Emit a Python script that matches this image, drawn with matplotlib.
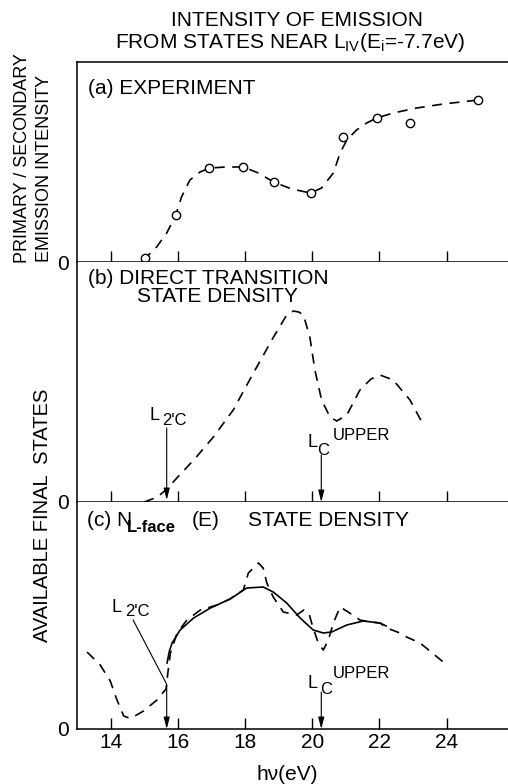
import matplotlib
matplotlib.use("Agg")
import matplotlib.pyplot as plt

plt.rcParams['font.family'] = ['Liberation Sans', 'DejaVu Sans']

# (a) experiment: primary / secondary emission intensity (arb. units)
exp_hv = [15.02, 15.94, 16.94, 17.95, 18.85, 19.95, 20.93, 21.92, 22.91, 24.94]
exp_int = [4, 47, 94, 95, 80, 69, 125, 144, 139, 162]
# hand-drawn guide through the points
exp_fit_hv = [15.00, 15.07, 15.37, 15.67, 15.94, 16.11, 16.36, 16.66, 16.94, 17.45,
              17.95, 18.40, 18.85, 19.39, 19.95, 20.28, 20.63, 20.83, 21.03, 21.32,
              21.62, 21.92, 22.41, 23.11, 23.90, 24.94]
exp_fit = [1, 5, 15, 29, 47, 65, 82, 90, 94, 95,
           95, 89, 80, 73, 69, 74, 89, 109, 122, 132,
           139, 144, 149, 154, 158, 162]

# (b) direct transition state density
dt_hv = [15.00, 15.40, 15.67, 16.00, 16.50, 17.06, 17.65, 18.25, 18.85, 19.24,
         19.44, 19.60, 19.74, 19.93, 20.08, 20.28, 20.53, 20.73, 21.03, 21.42,
         21.75, 22.02, 22.41, 22.91, 23.31]
dt_dos = [0, 5, 13, 25, 43, 65, 92, 129, 165, 187,
          191, 190, 187, 165, 132, 102, 85, 81, 87, 112,
          123, 127, 122, 102, 77]

# (c) N_L-face(E) state density, dashed and smoothed (solid)
lf_hv = [13.30, 13.69, 13.99, 14.19, 14.39, 14.59, 14.98, 15.38, 15.65, 15.70,
         15.78, 15.98, 16.27, 16.67, 17.17, 17.55, 17.95, 18.10, 18.40, 18.54,
         18.65, 18.84, 19.14, 19.54, 19.75, 19.90, 20.00, 20.18, 20.33, 20.48,
         20.63, 20.83, 21.07, 21.42, 21.72, 22.02, 22.22, 22.61, 22.81, 23.21, 23.90]
lf_dos = [77, 64, 48, 29, 13, 10.5, 18, 29, 40, 55,
          76, 96, 109, 119, 124, 130, 139, 156, 166, 161,
          146, 132, 117, 114, 119, 116, 104, 86, 79, 89,
          106, 122, 117, 109, 107, 106, 101, 96, 92, 86, 67]
sm_hv = [15.68, 15.75, 15.83, 16.07, 16.47, 16.97, 17.56, 18.05, 18.54, 18.84,
         19.24, 19.64, 20.03, 20.33, 20.58, 21.03, 21.52, 22.02, 22.20]
sm_dos = [66, 78, 86, 99, 111, 121, 130, 141, 142, 137,
          126, 111, 99, 96, 97, 104, 108, 106, 103]

# critical points
L2c = 15.67
Lc_upper = 20.27
xticks = [14, 16, 18, 20, 22, 24]

W, H = 508, 784
fig = plt.figure(figsize=(W / 100, H / 100), dpi=100)


def add_panel(top, bottom, ymax):
    ax = fig.add_axes([77 / W, 1 - bottom / H, 431 / W, (bottom - top) / H])
    ax.set_xlim(13, 13 + 431 / 33.6)
    ax.set_ylim(0, ymax)
    ax.spines['right'].set_visible(False)
    ax.spines['top'].set_visible(False)
    for s in ax.spines.values():
        s.set_linewidth(1.1)
    ax.set_xticks(xticks)
    ax.tick_params(axis='x', direction='in', length=8, width=1, labelbottom=False)
    ax.set_yticks([0])
    ax.set_yticklabels(['0'])
    ax.tick_params(axis='y', length=0, pad=6, labelsize=15)
    return ax


ax_a = add_panel(62, 262, 200)
ax_a.spines['top'].set_visible(True)
ax_b = add_panel(262, 502, 240)
ax_c = add_panel(502, 729, 227)
ax_c.tick_params(axis='x', labelbottom=True, labelsize=15, pad=3)

dash = (0, (6, 4.5))
ax_a.plot(exp_fit_hv, exp_fit, color='k', lw=1.2, ls=dash)
ax_a.plot(exp_hv, exp_int, 'o', ms=6, mfc='white', mec='k', mew=1)

ax_b.plot(dt_hv, dt_dos, color='k', lw=1.2, ls=dash)

ax_c.plot(lf_hv, lf_dos, color='k', lw=1.2, ls=dash)
ax_c.plot(sm_hv, sm_dos, color='k', lw=1.2)

arrow = dict(arrowstyle='-|>,head_length=0.7,head_width=0.18', lw=0.8,
             color='k', shrinkA=0, shrinkB=0)

# panel (b) markers
ax_b.annotate('', xy=(L2c, 2), xytext=(L2c, 74), arrowprops=arrow)
ax_b.text(L2c - 0.50, 86, 'L', fontsize=13, va='center', ha='left')
ax_b.text(L2c - 0.15, 81, "2'C", fontsize=12, va='center', ha='left')
ax_b.annotate('', xy=(Lc_upper, 0), xytext=(Lc_upper, 47), arrowprops=arrow)
ax_b.text(Lc_upper - 0.42, 59, 'L', fontsize=13, va='center', ha='left')
ax_b.text(Lc_upper - 0.13, 51, 'C', fontsize=12, va='center', ha='left')
ax_b.text(Lc_upper + 0.35, 66, 'UPPER', fontsize=12, va='center', ha='left')

# panel (c) markers
ax_c.plot([L2c - 1.0, L2c - 0.02, L2c], [109, 46, 44], color='k', lw=0.8)
ax_c.annotate('', xy=(L2c, 0), xytext=(L2c, 44), arrowprops=arrow)
ax_c.text(L2c - 1.63, 122, 'L', fontsize=13, va='center', ha='left')
ax_c.text(L2c - 1.25, 117, "2'C", fontsize=12, va='center', ha='left')
ax_c.annotate('', xy=(Lc_upper, 0), xytext=(Lc_upper, 37), arrowprops=arrow)
ax_c.text(Lc_upper - 0.40, 45, 'L', fontsize=13, va='center', ha='left')
ax_c.text(Lc_upper - 0.02, 39, 'C', fontsize=12, va='center', ha='left')
ax_c.text(Lc_upper + 0.35, 56, 'UPPER', fontsize=12, va='center', ha='left')


def ptext(x, y, s, **kw):
    fig.text(x / W, 1 - y / H, s, **kw)


ptext(297, 20, 'INTENSITY OF EMISSION', fontsize=15, ha='center', va='center')
ptext(290, 43, r'FROM STATES NEAR L$_\mathregular{IV}$(E$_\mathregular{i}$=-7.7eV)',
      fontsize=15, ha='center', va='center')

ptext(88, 88, '(a) EXPERIMENT', fontsize=15, va='center')
ptext(88, 278, '(b) DIRECT TRANSITION', fontsize=15, va='center')
ptext(217, 297, 'STATE DENSITY', fontsize=15, va='center', ha='center')
ptext(87, 521, '(c) N', fontsize=15, va='center')
ptext(127, 528, 'L-face', fontsize=12, va='center', weight='bold')
ptext(192, 521, '(E)', fontsize=15, va='center')
ptext(248, 521, 'STATE DENSITY', fontsize=15, va='center')

ptext(23, 158, 'PRIMARY / SECONDARY', fontsize=13, rotation=90, ha='center', va='center')
ptext(45, 168, 'EMISSION INTENSITY', fontsize=13, rotation=90, ha='center', va='center')
ptext(43, 515, 'AVAILABLE FINAL  STATES', fontsize=14.5, rotation=90, ha='center', va='center')

ptext(287, 774, 'hν(eV)', fontsize=15, ha='center', va='center')

fig.savefig('out.png', dpi=100)
